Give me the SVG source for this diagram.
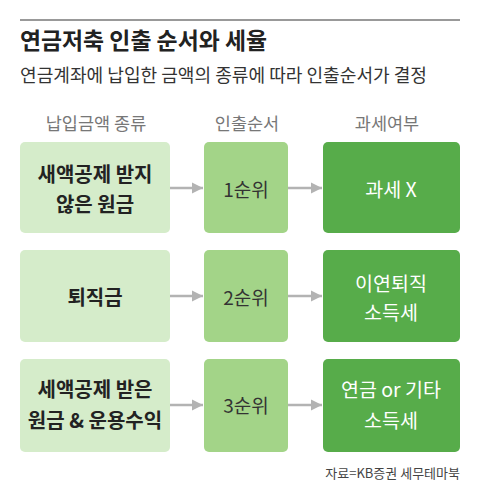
<svg xmlns="http://www.w3.org/2000/svg" width="480" height="500" viewBox="0 0 480 500">
<defs>
<style>
text{font-family:"Noto Sans CJK KR","Noto Sans",sans-serif;}
.title{font-size:23px;font-weight:700;fill:#222;}
.sub{font-size:18px;fill:#333;}
.hdr{font-size:17.5px;fill:#777;text-anchor:middle;}
.b1{fill:#d5ecca;}
.b2{fill:#a3d488;}
.b3{fill:#57ac4a;}
.t1{font-size:20px;font-weight:700;fill:#222;text-anchor:middle;}
.t2{font-size:19px;fill:#333;text-anchor:middle;}
.t3{font-size:19.5px;fill:#fff;text-anchor:middle;}
.src{font-size:13px;fill:#444;text-anchor:end;}
.arr{stroke:#b3b3b3;stroke-width:2.5;fill:none;marker-end:url(#ah);}
</style>
<marker id="ah" viewBox="0 0 10 10" refX="10" refY="5" markerWidth="11" markerHeight="12" markerUnits="userSpaceOnUse" orient="auto">
<path d="M0,0 L10,5 L0,10 Z" fill="#b3b3b3"/>
</marker>
</defs>
<line x1="20" y1="20" x2="460" y2="20" stroke="#999" stroke-width="2"/>
<text class="title" x="20" y="49" textLength="247" lengthAdjust="spacingAndGlyphs">연금저축 인출 순서와 세율</text>
<text class="sub" x="20" y="82" textLength="407" lengthAdjust="spacingAndGlyphs">연금계좌에 납입한 금액의 종류에 따라 인출순서가 결정</text>
<text class="hdr" x="96" y="130">납입금액 종류</text>
<text class="hdr" x="247" y="130">인출순서</text>
<text class="hdr" x="387" y="130">과세여부</text>
<g id="connectors">
<line class="arr" x1="170" y1="188" x2="203" y2="188"/>
<line class="arr" x1="288" y1="188" x2="322" y2="188"/>
<line class="arr" x1="170" y1="296" x2="203" y2="296"/>
<line class="arr" x1="288" y1="296" x2="322" y2="296"/>
<line class="arr" x1="170" y1="405" x2="203" y2="405"/>
<line class="arr" x1="288" y1="405" x2="322" y2="405"/>
</g>
<g id="r1c1"><rect class="b1" x="20" y="142" width="150" height="91" rx="5"/><text class="t1" x="95" y="182">새액공제 받지</text><text class="t1" x="95" y="212">않은 원금</text></g>
<g id="r1c2"><rect class="b2" x="204" y="142" width="84" height="91" rx="5"/><text class="t2" x="246" y="197">1순위</text></g>
<g id="r1c3"><rect class="b3" x="323" y="142" width="137" height="91" rx="5"/><text class="t3" x="391" y="197">과세 X</text></g>
<g id="r2c1"><rect class="b1" x="20" y="250" width="150" height="92" rx="5"/><text class="t1" x="95" y="305">퇴직금</text></g>
<g id="r2c2"><rect class="b2" x="204" y="250" width="84" height="92" rx="5"/><text class="t2" x="246" y="305">2순위</text></g>
<g id="r2c3"><rect class="b3" x="323" y="250" width="137" height="92" rx="5"/><text class="t3" x="391" y="291">이연퇴직</text><text class="t3" x="391" y="320">소득세</text></g>
<g id="r3c1"><rect class="b1" x="20" y="359" width="150" height="93" rx="5"/><text class="t1" x="95" y="397">세액공제 받은</text><text class="t1" x="95" y="428">원금 &amp; 운용수익</text></g>
<g id="r3c2"><rect class="b2" x="204" y="359" width="84" height="93" rx="5"/><text class="t2" x="246" y="413">3순위</text></g>
<g id="r3c3"><rect class="b3" x="323" y="359" width="137" height="93" rx="5"/><text class="t3" x="391" y="397">연금 or 기타</text><text class="t3" x="391" y="428">소득세</text></g>
<text class="src" x="460" y="478">자료=KB증권 세무테마북</text>
</svg>
